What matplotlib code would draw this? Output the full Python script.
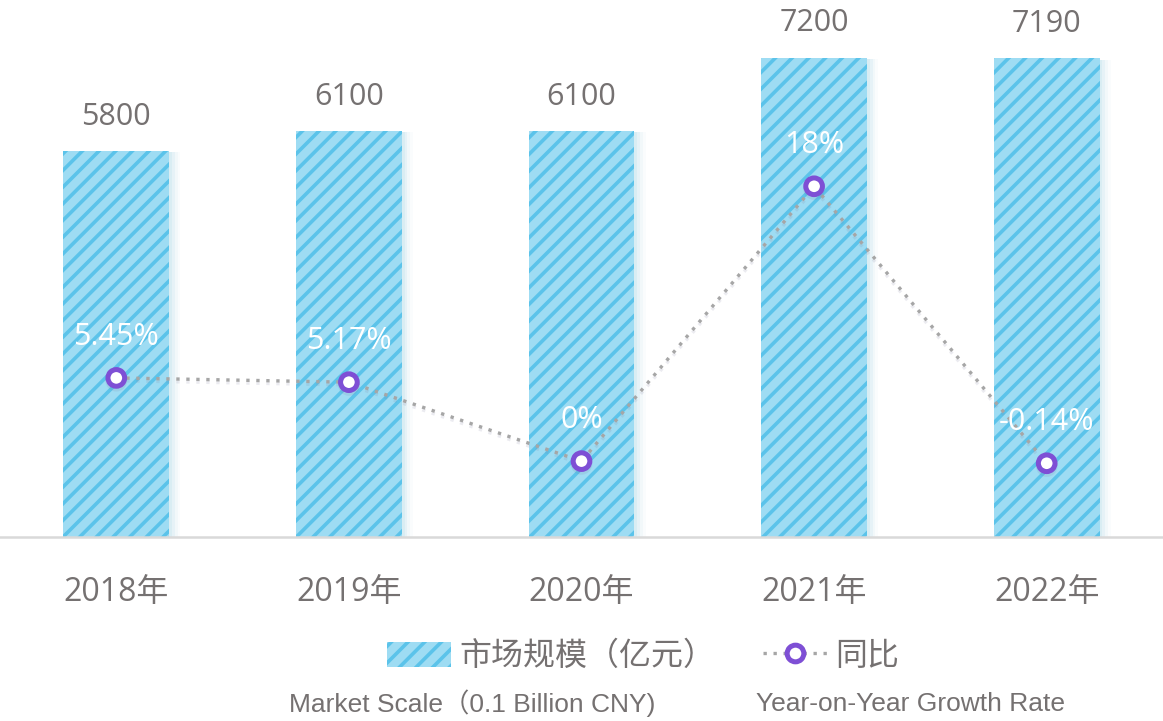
import matplotlib.pyplot as plt
import matplotlib.patheffects as pe
from matplotlib.lines import Line2D
from matplotlib.patches import Patch

plt.rcParams['font.family'] = ['Open Sans', 'Noto Sans CJK SC', 'DejaVu Sans']
plt.rcParams['hatch.linewidth'] = 2.6

years = ['2018年', '2019年', '2020年', '2021年', '2022年']
scale = [5800, 6100, 6100, 7200, 7190]
growth = [5.45, 5.17, 0, 18, -0.14]
growth_labels = ['5.45%', '5.17%', '0%', '18%', '-0.14%']

grey_text = '#757171'
bar_face = '#9edcf3'
bar_stripe = '#5bc3ea'
purple = '#7e4fd5'

fig = plt.figure(figsize=(11.63, 7.21), dpi=100)
ax = fig.add_axes([0, 0.2552, 1, 0.7448])
x = range(len(years))

# soft glow to the right of each bar
for off, a in [(0.012, 0.35), (0.024, 0.25), (0.036, 0.15), (0.048, 0.08)]:
    ax.bar([i + off for i in x], [v - 20 for v in scale], width=0.455, color='#c5e3ee',
           alpha=a, linewidth=0, zorder=1)
ax.bar(x, scale, width=0.455, color=bar_face, edgecolor=bar_stripe, hatch='//',
       linewidth=0, zorder=2)
for i, v in enumerate(scale):
    ax.text(i, v + 290, str(v), ha='center', va='bottom', fontsize=22, color=grey_text)

ax.set_xlim(-0.5, 4.5)
ax.set_ylim(0, 8067)
ax.set_yticks([])
ax.set_xticks(list(x))
ax.set_xticklabels(years, fontsize=23, color=grey_text)
ax.tick_params(axis='x', length=0, pad=28)
for s in ['top', 'right', 'left']:
    ax.spines[s].set_visible(False)
ax.spines['bottom'].set_color('#d9d9d9')
ax.spines['bottom'].set_linewidth(1.8)
ax.patch.set_alpha(0)

ax2 = ax.twinx()
ax2.set_ylim(-4.97, 30.2)
ax2.set_yticks([])
for s in ax2.spines.values():
    s.set_visible(False)
ax2.plot(x, growth, color='#a6a6a6', linestyle=(0, (1, 2)), linewidth=2.4,
         marker='o', markersize=12, markerfacecolor='white',
         markeredgecolor=purple, markeredgewidth=3.6, zorder=3,
         path_effects=[pe.SimpleLineShadow(offset=(0, -2), shadow_color='#7e7e9e', alpha=0.15),
                       pe.Normal()])
for i, (v, lab) in enumerate(zip(growth, growth_labels)):
    ax2.text(i, v + 1.7, lab, ha='center', va='bottom', fontsize=22, color='white', zorder=4)

handles = [Patch(facecolor=bar_face, edgecolor=bar_stripe, hatch='//', linewidth=0),
           Line2D([0], [0], color='#a6a6a6', linestyle=(0, (1, 2)), linewidth=2.4,
                  marker='o', markersize=12, markerfacecolor='white',
                  markeredgecolor=purple, markeredgewidth=3.6)]
fig.legend(handles, ['市场规模（亿元）', '同比'], loc='center', bbox_to_anchor=(0.553, 0.089),
           ncol=2, frameon=False, fontsize=23, labelcolor=grey_text,
           handlelength=2.0, handleheight=0.85, handletextpad=0.25, columnspacing=1.5)

eng = ['Liberation Sans', 'Noto Sans CJK SC']
fig.text(0.406, 0.024, 'Market Scale（0.1 Billion CNY)', ha='center', va='center',
         fontsize=19, color=grey_text, family=eng)
fig.text(0.7825, 0.024, 'Year-on-Year Growth Rate', ha='center', va='center',
         fontsize=19, color=grey_text, family=eng)

fig.savefig('out.png', dpi=100)
